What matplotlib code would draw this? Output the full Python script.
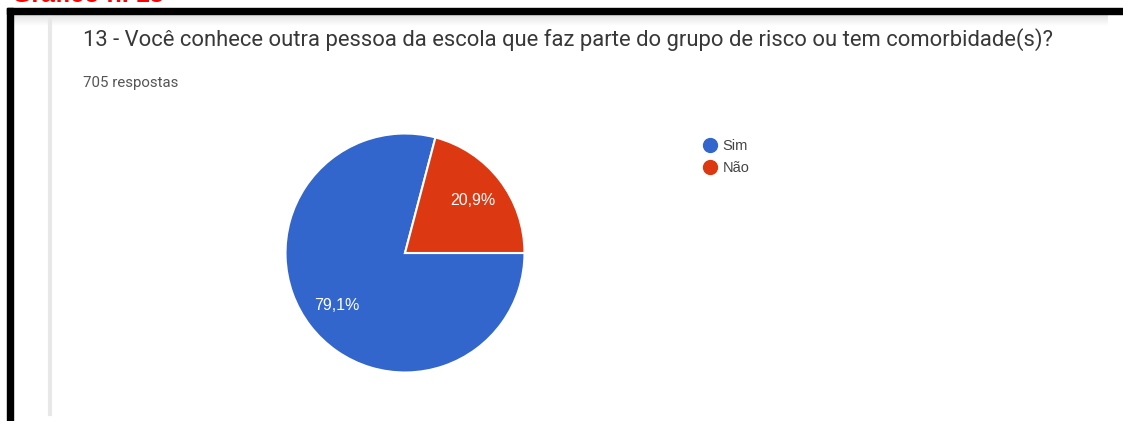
import matplotlib
matplotlib.use("Agg")
import matplotlib.pyplot as plt
from matplotlib.lines import Line2D
import numpy as np

# Data
categories = ["Sim", "Não"]
values = [79.1, 20.9]
colors = ["#3366CC", "#DC3912"]
title = "13 - Você conhece outra pessoa da escola que faz parte do grupo de risco ou tem comorbidade(s)?"
subtitle = "705 respostas"
caption = "Gráfico n. 13"

W, H = 1123, 421
fig = plt.figure(figsize=(W / 100, H / 100), dpi=100)
fig.patch.set_facecolor("white")

# background / frame in pixel coordinates
bg = fig.add_axes([0, 0, 1, 1])
bg.set_xlim(0, W)
bg.set_ylim(H, 0)
bg.axis("off")
# soft shadow at top of the card
grad = np.linspace(0.88, 1.0, 50).reshape(-1, 1)
bg.imshow(grad, extent=(13, 1108, 26, 14), cmap="gray", vmin=0, vmax=1,
          aspect="auto", zorder=1)
bg.plot([50, 50], [16, 414], color="#e8e8e8", lw=3, zorder=2)
# black frame
bg.add_patch(plt.Rectangle((7, 8), W - 7, 6, color="black", zorder=3))
bg.add_patch(plt.Rectangle((7, 8), 6, H - 8, color="black", zorder=3))

# caption cut off at top, as in the screenshot
fig.text(12 / W, 1 - 7 / H, caption, color="#ff0000", fontsize=18,
         fontweight="bold", family="Liberation Sans", va="bottom", ha="left")

fig.text(83 / W, 1 - 40 / H, title, color="#383838", fontsize=15.8,
         family="Roboto", va="center", ha="left")
fig.text(83 / W, 1 - 83 / H, subtitle, color="#555555", fontsize=10.8,
         family="Roboto", va="center", ha="left")

# pie
cx, cy, r = 405, 253, 119.5
ax = fig.add_axes([(cx - r) / W, (H - cy - r) / H, 2 * r / W, 2 * r / H])
wedges, texts, autotexts = ax.pie(
    values, colors=colors, startangle=0, counterclock=False, radius=1,
    autopct=lambda p: f"{p:.1f}%".replace(".", ","), pctdistance=0.72,
    wedgeprops=dict(edgecolor="white", linewidth=1.5),
    textprops=dict(color="white", fontsize=11.5, family="Liberation Sans"),
)
ax.set_xlim(-1, 1)
ax.set_ylim(-1, 1)
ax.set_aspect("equal")

handles = [Line2D([], [], marker="o", linestyle="", markersize=10,
                  markerfacecolor=c, markeredgecolor=c) for c in colors]
fig.legend(handles, categories, loc="upper left",
           bbox_to_anchor=(690 / W, 1 - 126 / H), frameon=False,
           handlelength=1.0, handletextpad=0.35, labelspacing=0.55,
           prop=dict(family="Liberation Sans", size=10.5), labelcolor="#444444")

fig.savefig("out.png", dpi=100)
